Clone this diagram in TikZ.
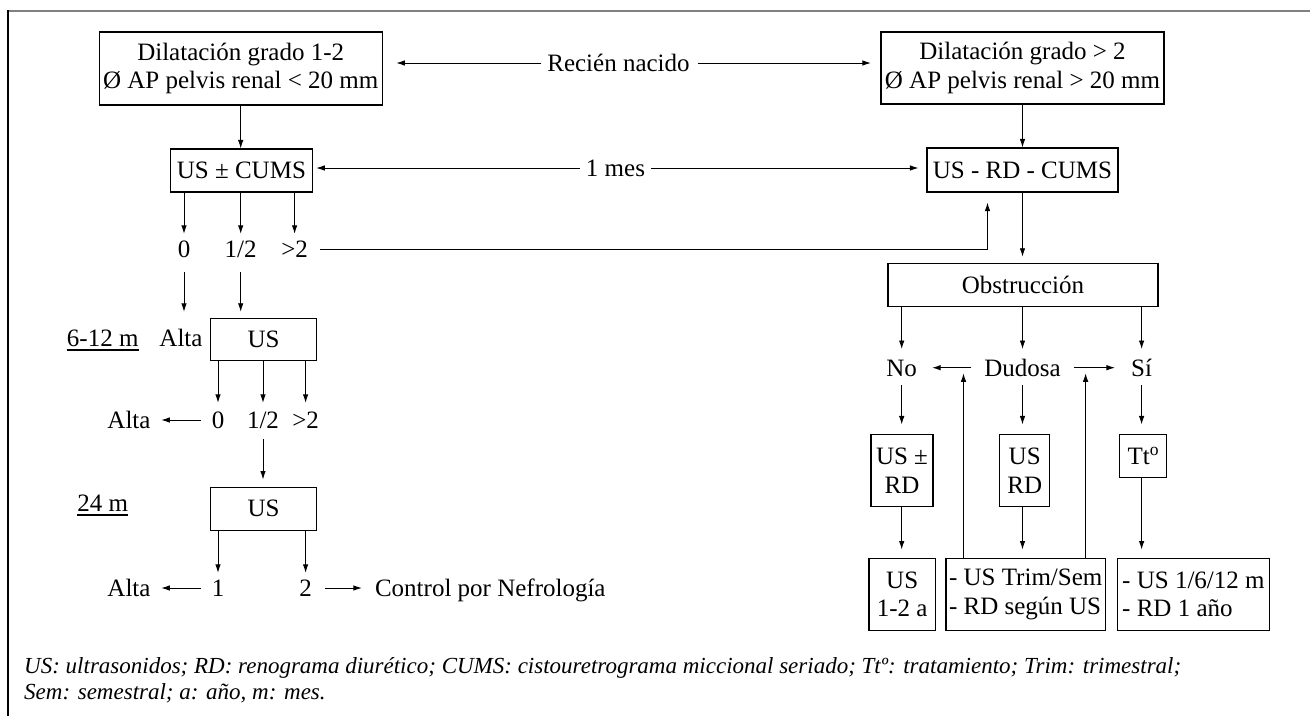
\documentclass[tikz,border=0pt]{standalone}
\usepackage{fontspec}
\setmainfont{Liberation Serif}
\usetikzlibrary{arrows.meta,calc}
\begin{document}
\begin{tikzpicture}[x=1pt,y=-1pt,
  font=\fontsize{25}{28.5}\selectfont,
  box/.style={draw, line width=1.1pt, inner sep=0pt, align=center},
  lbl/.style={inner sep=0pt, text height=17pt, text depth=0pt},
  arr/.style={-{Latex[length=8.5pt,width=5.5pt]}, line width=0.9pt},
  uline/.style={line width=1.6pt},
  capt/.style={anchor=base west, inner sep=0pt, font=\fontsize{23}{26}\selectfont\itshape},
]
\useasboundingbox (0,0) rectangle (1310,716);
% frame
\draw[line width=2pt, color=black!50] (8,11) -- (1310,11);
\draw[line width=1.5pt] (8,10) -- (8,716);

% top row
\node[box, minimum width=283pt, minimum height=73pt] (d1) at (240.7,68.5) {Dilatación grado 1-2\\Ø AP pelvis renal < 20 mm};
\node[box, minimum width=283pt, minimum height=72pt] (d2) at (1022.5,68) {Dilatación grado > 2\\Ø AP pelvis renal > 20 mm};
\node[lbl] (rn) at (618.5,63) {Recién nacido};
\draw[arr, shorten >=13.6pt] ([xshift=-6pt]rn.west) -- (rn.west -| d1.east);
\draw[arr, shorten >=9.6pt] ([xshift=8pt]rn.east) -- (rn.east -| d2.west);

% first studies
\node[box, minimum width=142pt, minimum height=43pt] (c1) at (241.4,170.5) {US ± CUMS};
\node[box, minimum width=191pt, minimum height=44pt] (c2) at (1022.5,170) {US - RD - CUMS};
\node[lbl] (ms) at (615.5,168) {1 mes};
\draw[arr, shorten >=3.3pt] ([xshift=-6pt]ms.west) -- (ms.west -| c1.east);
\draw[arr, shorten >=8pt] ([xshift=6pt]ms.east) -- (ms.east -| c2.west);
\draw[arr] (d1.south) -- (d1.south |- c1.north);
\draw[arr] (d2.south) -- (d2.south |- c2.north);

% left branch: grades after first US
\node[lbl] (a0) at (184,249) {0};
\node[lbl] (a12) at (240.7,249) {1/2};
\node[lbl] (ag2) at (294.6,249) {>2};
\foreach \n in {a0,a12,ag2}
  \draw[arr, shorten >=6.5pt] (c1.south -| \n) -- (\n.north);
\coordinate (j1) at (987.5,249);
\draw[arr, shorten >=10pt] ([xshift=12pt]ag2.east) -- (j1) -- (j1 |- c2.south);

% 6-12 months
\node[lbl] (al1) at (181,338) {Alta};
\node[box, minimum width=106pt, minimum height=42.4pt] (u1) at (263.5,339.5) {US};
\node[lbl] (t1) at (102.7,338) {6-12 m};
\draw[uline] ($(t1.south west)+(0,3.5)$) -- ($(t1.south east)+(0,3.5)$);
\draw[arr, shorten <=14.5pt, shorten >=17.5pt] (a0.south) -- (a0.south |- al1.north);
\draw[arr, shorten <=14.5pt, shorten >=6pt] (a12.south) -- (a12.south |- u1.north);

\node[lbl] (r0) at (218,420) {0};
\node[lbl] (r12) at (263,420) {1/2};
\node[lbl] (rg2) at (305.6,420) {>2};
\foreach \n in {r0,r12,rg2}
  \draw[arr, shorten >=8.5pt] (u1.south -| \n) -- (\n.north);
\node[lbl] (al2) at (129,420) {Alta};
\draw[arr, shorten >=10.6pt] ([xshift=-11pt]r0.west) -- (r0.west -| al2.east);

% 24 months
\node[box, minimum width=106pt, minimum height=42.7pt] (u2) at (263.5,508.7) {US};
\node[lbl] (t2) at (102.7,503) {24 m};
\draw[uline] ($(t2.south west)+(0,3.5)$) -- ($(t2.south east)+(0,3.5)$);
\draw[arr, shorten <=10.5pt, shorten >=7.3pt] (r12.south) -- (r12.south |- u2.north);

\node[lbl] (s1) at (218,588) {1};
\node[lbl] (s2) at (305.6,588) {2};
\foreach \n in {s1,s2}
  \draw[arr, shorten >=6.5pt] (u2.south -| \n) -- (\n.north);
\node[lbl] (al3) at (129,588) {Alta};
\node[lbl] (ctl) at (490.3,588) {Control por Nefrología};
\draw[arr, shorten >=10.6pt] ([xshift=-11pt]s1.west) -- (s1.west -| al3.east);
\draw[arr, shorten >=13pt] ([xshift=13pt]s2.east) -- (s2.east -| ctl.west);

% right branch: obstruction
\node[box, minimum width=270pt, minimum height=43.4pt] (ob) at (1023,285) {Obstrucción};
\draw[arr, shorten >=6pt] (c2.south) -- (c2.south |- ob.north);
\node[lbl] (no) at (901.7,367.7) {No};
\node[lbl] (du) at (1022.5,367.7) {Dudosa};
\node[lbl] (si) at (1141.6,367.7) {Sí};
\foreach \n in {no,du,si}
  \draw[arr, shorten >=10pt] (ob.south -| \n) -- (\n.north);
\draw[arr, shorten >=15pt] ([xshift=-13pt]du.west) -- (no.east);
\draw[arr, shorten >=16pt] ([xshift=13pt]du.east) -- (si.west);

\node[box, minimum width=62pt, minimum height=72.4pt] (x1) at (902,470.5) {US ±\\RD};
\node[box, minimum width=50pt, minimum height=72.4pt] (x2) at (1024.7,470.5) {US\\RD};
\node[box, minimum width=47pt, minimum height=43pt] (x3) at (1143.4,455.8) {Tt\textsuperscript{o}};
\draw[arr, shorten <=9pt, shorten >=9.3pt] (no.south) -- (no.south |- x1.north);
\draw[arr, shorten <=9pt, shorten >=9.3pt] (du.south) -- (du.south |- x2.north);
\draw[arr, shorten <=9pt, shorten >=9.3pt] (si.south) -- (si.south |- x3.north);

\node[box, minimum width=66.5pt, minimum height=71.7pt] (y1) at (902.2,594.2) {US\\1-2 a};
\node[box, minimum width=159.5pt, minimum height=71.7pt, align=left] (y2) at (1025.7,594.2) {- US Trim/Sem\\- RD según US};
\node[box, minimum width=152pt, minimum height=71.7pt, align=left] (y3) at (1193.4,594.2) {- US 1/6/12 m\\- RD 1 año};
\draw[arr, shorten >=8.3pt] (x1.south -| no) -- (no |- y1.north);
\draw[arr, shorten >=8.3pt] (x2.south -| du) -- (du |- y2.north);
\draw[arr, shorten >=8.3pt] (x3.south -| si) -- (si |- y3.north);

% follow-up returns to the decision row
\coordinate (p1) at (963.5,373.3);
\coordinate (p2) at (1085.6,373.3);
\draw[arr] (y2.north -| p1) -- (p1);
\draw[arr] (y2.north -| p2) -- (p2);

% abbreviations
\node[capt] (cap1) at (24,673) {US: ultrasonidos; RD: renograma diurético; CUMS: cistouretrograma miccional seriado; Ttº: tratamiento; Trim: trimestral;};
\node[capt] (cap2) at (24,699) {Sem: semestral; a: año, m: mes.};
\end{tikzpicture}
\end{document}
